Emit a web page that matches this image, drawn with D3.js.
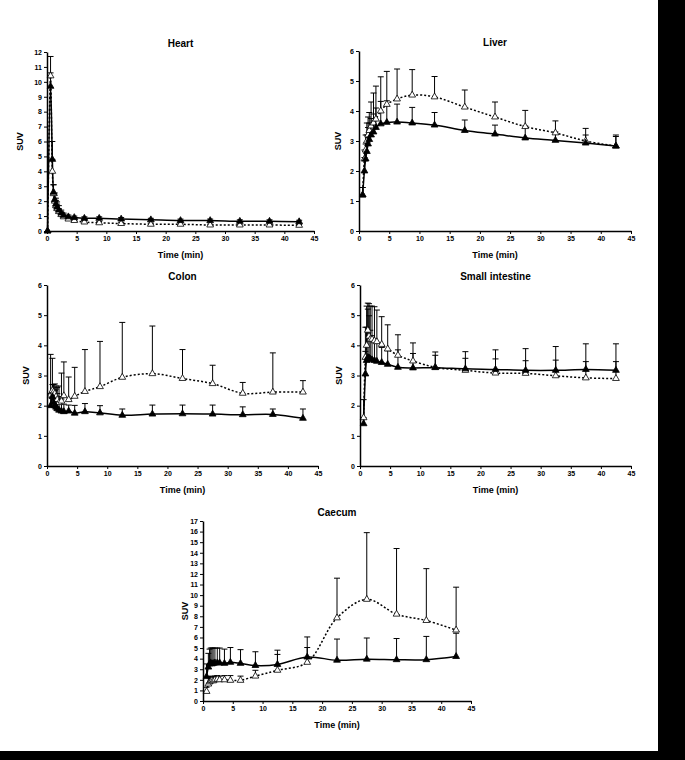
<!DOCTYPE html>
<html>
<head>
<meta charset="utf-8">
<script src="https://cdn.jsdelivr.net/npm/d3@7"></script>
<style>
  body { margin: 0; background: #fff; }
  svg { display: block; font-family: 'Liberation Sans', Arial, sans-serif; }
  .tick text { font-size: 7px; font-weight: bold; }
  .axis path, .axis line { stroke: #000; }
</style>
</head>
<body>
<div id="chart"></div>
<script>
// mid-frame times (min), shared by all organs
const times = [0.1, 0.6, 0.9, 1.1, 1.3, 1.5, 1.7, 2.0, 2.4, 2.8, 3.6, 4.6, 6.3, 8.8, 12.5, 17.5, 22.5, 27.5, 32.5, 37.5, 42.5];
const xTicks = [0, 5, 10, 15, 20, 25, 30, 35, 40, 45];

// solid line / filled triangles, dotted line / open triangles; sd = upper error bar
const heartSolid = [0, 9.7, 4.8, 2.6, 2.1, 1.8, 1.6, 1.4, 1.2, 1.05, 0.95, 0.9, 0.85, 0.85, 0.8, 0.75, 0.7, 0.7, 0.65, 0.65, 0.62];
const heartSolidSd = [0, 0.9, 1.2, 0.5, 0.45, 0.4, 0.35, 0.3, 0.2, 0.15, 0.12, 0.1, 0.1, 0.1, 0.1, 0.1, 0.1, 0.1, 0.1, 0.1, 0.1];
const heartDotted = [0, 10.4, 4.0, 2.5, 2.0, 1.7, 1.5, 1.3, 1.1, 0.95, 0.8, 0.7, 0.6, 0.55, 0.5, 0.45, 0.45, 0.4, 0.4, 0.4, 0.38];
const heartDottedSd = [0, 1.3, 0.8, 0.6, 0.4, 0.35, 0.3, 0.2, 0.15, 0.1, 0.1, 0.1, 0.1, 0.08, 0.08, 0.08, 0.08, 0.06, 0.06, 0.06, 0.06];

const liverSolid = [null, 1.2, 2.0, 2.4, 2.65, 2.9, 3.05, 3.2, 3.3, 3.45, 3.57, 3.62, 3.63, 3.6, 3.53, 3.35, 3.23, 3.1, 3.02, 2.93, 2.83];
const liverSolidSd = [null, 0.25, 0.45, 0.5, 0.55, 0.55, 0.55, 0.55, 0.6, 0.65, 0.75, 0.72, 0.6, 0.52, 0.42, 0.35, 0.3, 0.4, 0.28, 0.27, 0.32];
const liverDotted = [null, 1.2, 2.4, 2.7, 3.0, 3.2, 3.35, 3.5, 3.6, 3.73, 4.0, 4.22, 4.4, 4.53, 4.47, 4.13, 3.8, 3.48, 3.27, 3.0, 2.83];
const liverDottedSd = [null, 0.25, 0.3, 0.5, 0.6, 0.6, 0.6, 0.8, 1.0, 1.1, 1.14, 1.1, 1.0, 0.85, 0.68, 0.57, 0.5, 0.54, 0.4, 0.42, 0.37];

const colonSolid = [null, 2.0, 2.3, 2.1, 2.0, 1.95, 1.9, 1.85, 1.82, 1.8, 1.82, 1.75, 1.8, 1.76, 1.68, 1.72, 1.73, 1.72, 1.7, 1.71, 1.58];
const colonSolidSd = [null, 0.4, 0.4, 0.35, 0.5, 0.6, 0.5, 0.45, 0.4, 0.25, 0.2, 0.26, 0.27, 0.24, 0.21, 0.3, 0.29, 0.3, 0.26, 0.18, 0.31];
const colonDotted = [null, 2.35, 2.5, 2.45, 2.4, 2.3, 2.2, 2.1, 2.15, 2.33, 2.2, 2.31, 2.47, 2.63, 2.94, 3.06, 2.9, 2.73, 2.41, 2.45, 2.45];
const colonDottedSd = [null, 1.35, 1.07, 0.25, 0.32, 0.35, 0.4, 0.55, 0.93, 1.12, 0.75, 0.96, 1.39, 1.5, 1.82, 1.58, 0.96, 0.61, 0.36, 1.3, 0.38];

const intestineSolid = [null, 1.4, 3.05, 3.5, 3.6, 3.58, 3.55, 3.52, 3.5, 3.47, 3.43, 3.37, 3.27, 3.25, 3.26, 3.22, 3.2, 3.17, 3.17, 3.2, 3.17];
const intestineSolidSd = [null, 0.2, 0.75, 1.1, 1.6, 1.4, 0.95, 0.8, 0.7, 0.6, 0.5, 0.45, 0.58, 0.48, 0.41, 0.35, 0.35, 0.32, 0.34, 0.26, 0.29];
const intestineDotted = [null, 1.6, 3.6, 4.0, 4.5, 4.3, 4.2, 4.2, 4.15, 4.12, 4.03, 3.88, 3.67, 3.48, 3.27, 3.17, 3.08, 3.07, 2.99, 2.92, 2.9];
const intestineDottedSd = [null, 0.6, 1.0, 1.3, 0.9, 1.08, 1.1, 1.1, 1.13, 1.05, 0.92, 0.8, 0.68, 0.6, 0.51, 0.62, 0.77, 0.82, 0.97, 1.13, 1.15];

const caecumSolid = [null, 2.3, 3.2, 3.5, 3.6, 3.5, 3.55, 3.6, 3.6, 3.6, 3.55, 3.65, 3.55, 3.35, 3.45, 4.15, 3.85, 3.95, 3.9, 3.9, 4.2];
const caecumSolidSd = [null, 1.2, 1.3, 1.4, 1.4, 1.5, 1.45, 1.4, 1.4, 1.4, 1.35, 1.4, 1.3, 1.3, 1.35, 1.9, 2.0, 2.0, 2.0, 2.2, 2.2];
const caecumDotted = [null, 0.9, 1.6, 1.8, 1.9, 1.95, 1.9, 2.0, 2.05, 2.0, 2.0, 1.95, 1.95, 2.35, 2.9, 3.65, 7.85, 9.6, 8.2, 7.6, 6.7];
const caecumDottedSd = [null, 0.4, 0.7, 0.4, 0.4, 0.4, 0.4, 0.35, 0.35, 0.35, 0.4, 0.45, 0.4, 0.55, 1.5, 1.4, 3.75, 6.3, 6.2, 4.9, 4.05];

// panel boxes (plot area in px) and y max
const panels = [
  { title: 'Heart', left: 47, right: 314, top: 52, bottom: 231, yMax: 12, labelGap: 24, solid: heartSolid, solidSd: heartSolidSd, dotted: heartDotted, dottedSd: heartDottedSd },
  { title: 'Liver', left: 359, right: 631, top: 51, bottom: 231, yMax: 6, labelGap: 18, solid: liverSolid, solidSd: liverSolidSd, dotted: liverDotted, dottedSd: liverDottedSd },
  { title: 'Colon', left: 47, right: 318, top: 285, bottom: 466, yMax: 6, labelGap: 18, solid: colonSolid, solidSd: colonSolidSd, dotted: colonDotted, dottedSd: colonDottedSd },
  { title: 'Small intestine', left: 360, right: 631, top: 285, bottom: 466, yMax: 6, labelGap: 18, solid: intestineSolid, solidSd: intestineSolidSd, dotted: intestineDotted, dottedSd: intestineDottedSd },
  { title: 'Caecum', left: 203, right: 471, top: 521, bottom: 701, yMax: 17, labelGap: 15, solid: caecumSolid, solidSd: caecumSolidSd, dotted: caecumDotted, dottedSd: caecumDottedSd },
];

const svg = d3.select('#chart').append('svg').attr('width', 685).attr('height', 760);
svg.append('rect').attr('width', 685).attr('height', 760).attr('fill', '#fff');

const toPoints = (vals, sds) =>
  times.map((t, i) => ({ t, v: vals[i], sd: sds[i] })).filter((d) => d.v !== null);

const drawPanel = (p) => {
  const x = d3.scaleLinear().domain([0, 45]).range([p.left, p.right]);
  const y = d3.scaleLinear().domain([0, p.yMax]).range([p.bottom, p.top]);
  const g = svg.append('g');

  const line = d3
    .line()
    .x((d) => x(d.t))
    .y((d) => y(d.v))
    .curve(d3.curveCatmullRom.alpha(0.5));

  const series = [
    { pts: toPoints(p.dotted, p.dottedSd), dash: '2,2', fill: '#fff' },
    { pts: toPoints(p.solid, p.solidSd), dash: null, fill: '#000' },
  ];

  // error bars (upper only)
  series.forEach((s) => {
    const eb = g.append('g').attr('stroke', '#000').attr('stroke-width', 1);
    s.pts.filter((d) => d.sd > 0).forEach((d) => {
      eb.append('line').attr('x1', x(d.t)).attr('x2', x(d.t)).attr('y1', y(d.v)).attr('y2', y(d.v + d.sd));
      eb.append('line').attr('x1', x(d.t) - 3).attr('x2', x(d.t) + 3).attr('y1', y(d.v + d.sd)).attr('y2', y(d.v + d.sd));
    });
  });

  series.forEach((s) => {
    g.append('path')
      .datum(s.pts)
      .attr('fill', 'none')
      .attr('stroke', '#000')
      .attr('stroke-width', 1.5)
      .attr('stroke-dasharray', s.dash)
      .attr('d', line);
  });

  const tri = d3.symbol(d3.symbolTriangle).size(20);
  series.forEach((s) => {
    g.selectAll(null)
      .data(s.pts)
      .join('path')
      .attr('transform', (d) => `translate(${x(d.t)},${y(d.v)})`)
      .attr('d', tri)
      .attr('fill', s.fill)
      .attr('stroke', '#000')
      .attr('stroke-width', 0.8);
  });

  const xAxis = d3.axisBottom(x).tickValues(xTicks).tickSize(3).tickSizeOuter(0).tickPadding(2);
  const yAxis = d3.axisLeft(y).ticks(p.yMax).tickSize(3).tickSizeOuter(0).tickPadding(2).tickFormat(d3.format('d'));

  g.append('g').attr('class', 'axis').attr('transform', `translate(0,${p.bottom})`).call(xAxis)
    .call((a) => a.select('.domain').attr('stroke-width', 1.5));
  g.append('g').attr('class', 'axis').attr('transform', `translate(${p.left},0)`).call(yAxis)
    .call((a) => a.select('.domain').attr('stroke-width', 1.5));

  g.append('text')
    .attr('x', (p.left + p.right) / 2)
    .attr('y', p.top - 5)
    .attr('text-anchor', 'middle')
    .style('font-size', '10px')
    .style('font-weight', 'bold')
    .text(p.title);

  g.append('text')
    .attr('x', (p.left + p.right) / 2)
    .attr('y', p.bottom + 27)
    .attr('text-anchor', 'middle')
    .style('font-size', '9px')
    .style('font-weight', 'bold')
    .text('Time (min)');

  g.append('text')
    .attr('transform', 'rotate(-90)')
    .attr('x', -(p.top + p.bottom) / 2)
    .attr('y', p.left - p.labelGap)
    .attr('text-anchor', 'middle')
    .style('font-size', '9px')
    .style('font-weight', 'bold')
    .text('SUV');
};

panels.forEach(drawPanel);

// black scan borders
svg.append('rect').attr('x', 658).attr('y', 0).attr('width', 27).attr('height', 760).attr('fill', '#000');
svg.append('rect').attr('x', 0).attr('y', 751).attr('width', 685).attr('height', 9).attr('fill', '#000');
</script>
</body>
</html>
